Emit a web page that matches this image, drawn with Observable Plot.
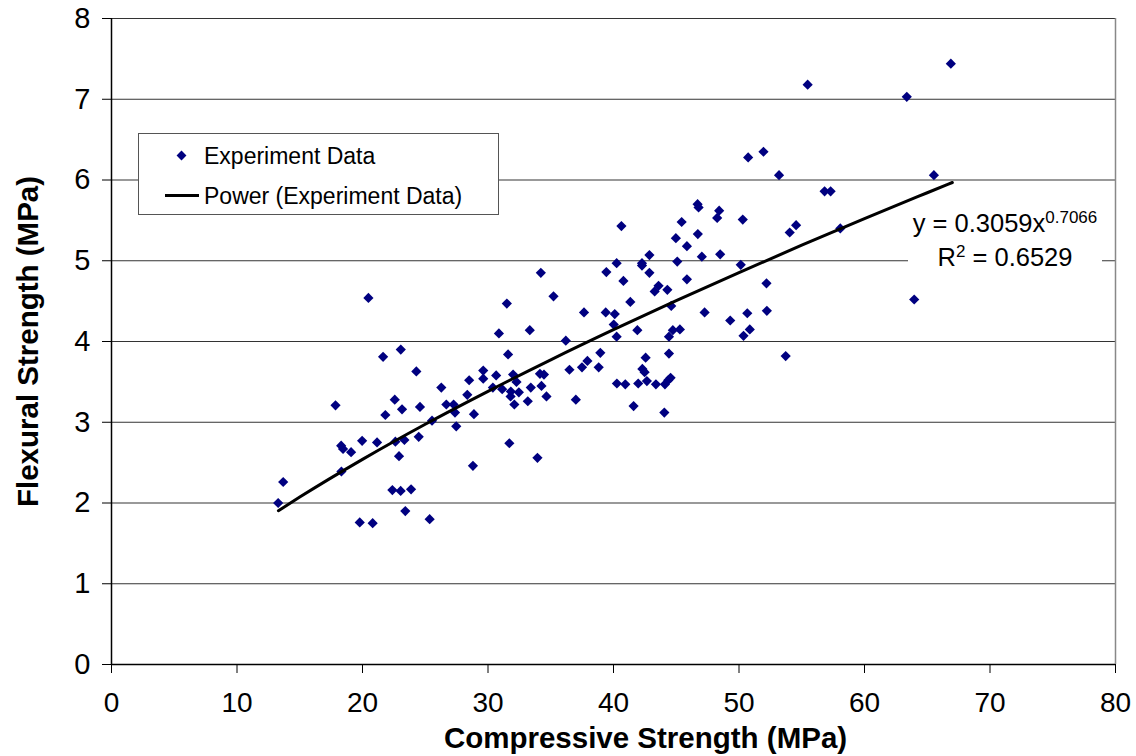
<!DOCTYPE html>
<html>
<head>
<meta charset="utf-8">
<script src="https://cdn.jsdelivr.net/npm/d3@7"></script>
<script src="https://cdn.jsdelivr.net/npm/@observablehq/plot@0.6"></script>
<style>
  html, body { margin: 0; padding: 0; background: #fff; }
  #wrap { position: relative; width: 1136px; height: 756px; font-family: "Liberation Sans", Arial, sans-serif; }
  #legend { position: absolute; left: 138px; top: 133px; width: 361px; height: 82px; border: 1px solid #555; background: #fff; box-sizing: border-box; font-size: 23px; color: #000; }
  #legend .row { position: absolute; left: 0; height: 30px; line-height: 30px; white-space: nowrap; }
  #legend .lab { position: absolute; left: 65px; }
  #legend .diam { position: absolute; left: 39px; top: 11px; width: 7px; height: 7px; background: #000080; transform: rotate(45deg); }
  #legend .ln { position: absolute; left: 26px; top: 13px; width: 34px; height: 3px; background: #000; }
  #eq { position: absolute; left: 908px; top: 206px; width: 194px; height: 76px; background: #fff; font-size: 25.5px; text-align: center; color: #000; line-height: 34px; white-space: nowrap; }
  #eq sup { font-size: 17px; vertical-align: 9px; line-height: 0; }
</style>
</head>
<body>
<div id="wrap">
  <div id="chart"></div>
  <div id="legend"></div>
  <div id="eq"></div>
</div>
<script>
// Experimental data: compressive strength (MPa) and flexural strength (MPa)
const compressive = [
  20.47, 31.5, 30.87, 31.6, 21.64, 23.05, 24.29, 26.28, 28.5, 29.62,
  29.62, 30.65, 30.39, 31.13, 31.8, 28.35, 26.68, 27.26, 27.37, 28.88,
  27.47, 25.54, 24.48, 23.34, 22.62, 21.16, 19.97, 18.3, 18.45, 19.09,
  17.85, 21.82, 22.57, 23.15, 24.58, 22.91, 18.32, 28.8, 13.68, 13.28,
  22.38, 23.04, 23.87, 23.41, 19.78, 20.81, 25.35, 31.7, 33.94,
  40.63, 45.43, 44.97, 46.72, 45.85, 42.86, 42.27, 42.27, 40.25, 39.43,
  42.86, 45.08, 47.04, 48.5, 34.21, 40.79, 45.85, 43.59, 43.28, 44.29,
  35.22, 41.34, 44.6, 37.65, 39.38, 40.1, 40.02, 47.26, 49.3, 33.33,
  41.9, 44.73, 45.29, 44.42, 40.25, 36.2, 44.42, 38.95, 42.56, 37.92,
  37.49, 38.82, 36.49, 42.3, 42.48, 32.0, 34.14, 34.46, 32.27, 34.26,
  33.41, 31.82, 32.46, 34.66, 32.1, 33.17, 37.0, 40.27, 40.94, 41.97,
  42.66, 43.38, 44.1, 44.36, 44.55, 41.6, 44.05,
  55.47, 63.37, 50.73, 51.95, 53.19, 56.82, 57.3, 46.7, 46.78, 48.42,
  48.26, 50.3, 54.55, 54.04, 58.07, 50.14, 52.19, 50.66, 52.22, 50.86,
  50.36, 53.72, 63.96, 66.88, 65.53
];
const flexural = [
  4.54, 4.47, 4.10, 3.84, 3.81, 3.90, 3.63, 3.43, 3.52, 3.64,
  3.54, 3.58, 3.43, 3.41, 3.32, 3.34, 3.22, 3.22, 3.12, 3.10,
  2.95, 3.02, 2.82, 2.78, 2.76, 2.75, 2.77, 2.71, 2.67, 2.63,
  3.21, 3.09, 3.28, 3.16, 3.19, 2.58, 2.39, 2.46, 2.26, 2.00,
  2.16, 2.15, 2.17, 1.90, 1.76, 1.75, 1.80, 2.74, 2.56,
  5.43, 5.48, 5.28, 5.33, 5.18, 5.07, 4.97, 4.94, 4.97, 4.86,
  4.85, 4.99, 5.05, 5.08, 4.85, 4.75, 4.77, 4.69, 4.62, 4.64,
  4.56, 4.49, 4.44, 4.36, 4.36, 4.34, 4.21, 4.36, 4.26, 4.14,
  4.14, 4.14, 4.15, 4.06, 4.06, 4.01, 3.85, 3.86, 3.80, 3.76,
  3.68, 3.68, 3.65, 3.66, 3.62, 3.59, 3.60, 3.59, 3.50, 3.45,
  3.43, 3.38, 3.37, 3.32, 3.22, 3.26, 3.28, 3.48, 3.47, 3.48,
  3.51, 3.47, 3.47, 3.52, 3.55, 3.20, 3.12,
  7.18, 7.03, 6.28, 6.35, 6.06, 5.86, 5.86, 5.70, 5.66, 5.62,
  5.53, 5.51, 5.44, 5.35, 5.40, 4.95, 4.72, 4.35, 4.38, 4.15,
  4.07, 3.82, 4.52, 7.44, 6.06
];

// Power trendline as drawn
const trendX = [13.3, 15, 20, 25, 30, 35, 40, 45, 50, 55, 60, 65, 67];
const trendY = [1.904, 2.073, 2.540, 2.975, 3.383, 3.773, 4.146, 4.506, 4.854, 5.192, 5.522, 5.842, 5.969];

const xTicks = [0, 10, 20, 30, 40, 50, 60, 70, 80];
const yTicks = [0, 1, 2, 3, 4, 5, 6, 7, 8];

const seriesName = "Experiment Data";
const trendName = "Power (Experiment Data)";
const xTitle = "Compressive Strength (MPa)";
const yTitle = "Flexural Strength (MPa)";
const eqCoef = "0.3059", eqExp = "0.7066", r2 = "0.6529";

const points = compressive.map((c, i) => ({x: c, y: flexural[i]}));
const trend = trendX.map((x, i) => ({x, y: trendY[i]}));

const font = '"Liberation Sans", Arial, sans-serif';

const chart = Plot.plot({
  width: 1136,
  height: 756,
  marginLeft: 111,
  marginRight: 21,
  marginTop: 18,
  marginBottom: 92,
  style: {fontFamily: font, fontSize: "28px", color: "#000", background: "#fff"},
  x: {domain: [0, 80], ticks: xTicks},
  y: {domain: [0, 8], ticks: yTicks},
  marks: [
    Plot.gridY(yTicks, {stroke: "#000", strokeOpacity: 0.8, strokeWidth: 1}),
    Plot.ruleX([80], {stroke: "#888", strokeWidth: 1.5}),
    Plot.axisX(xTicks, {tickSize: 9, tickPadding: 19, fontSize: 28, label: null, stroke: "#000", tickFormat: d3.format("d")}),
    Plot.axisY(yTicks, {tickSize: 9, tickPadding: 12, fontSize: 29, label: null, stroke: "#000", tickFormat: d3.format("d")}),
    Plot.ruleY([0], {stroke: "#000", strokeWidth: 1.5}),
    Plot.ruleX([0], {stroke: "#000", strokeWidth: 1.5}),
    Plot.dot(points, {x: "x", y: "y", symbol: "diamond2", r: 4.6, fill: "#000080", stroke: "none"}),
    Plot.line(trend, {x: "x", y: "y", stroke: "#000", strokeWidth: 3, curve: "monotone-x"}),
    Plot.text([xTitle], {frameAnchor: "bottom", textAnchor: "middle", dx: 32, dy: 74, lineAnchor: "middle", fontWeight: "bold", fontSize: 29.5}),
    Plot.text([yTitle], {frameAnchor: "left", textAnchor: "middle", rotate: -90, dx: -83, dy: 0, lineAnchor: "middle", fontWeight: "bold", fontSize: 29.5})
  ]
});
document.getElementById("chart").appendChild(chart);

document.getElementById("legend").innerHTML =
  `<div class="row" style="top:7px;width:100%"><span class="diam"></span><span class="lab">${seriesName}</span></div>` +
  `<div class="row" style="top:47px;width:100%"><span class="ln"></span><span class="lab">${trendName}</span></div>`;
document.getElementById("eq").innerHTML =
  `<div>y = ${eqCoef}x<sup>${eqExp}</sup></div><div>R<sup>2</sup> = ${r2}</div>`;
</script>
</body>
</html>
